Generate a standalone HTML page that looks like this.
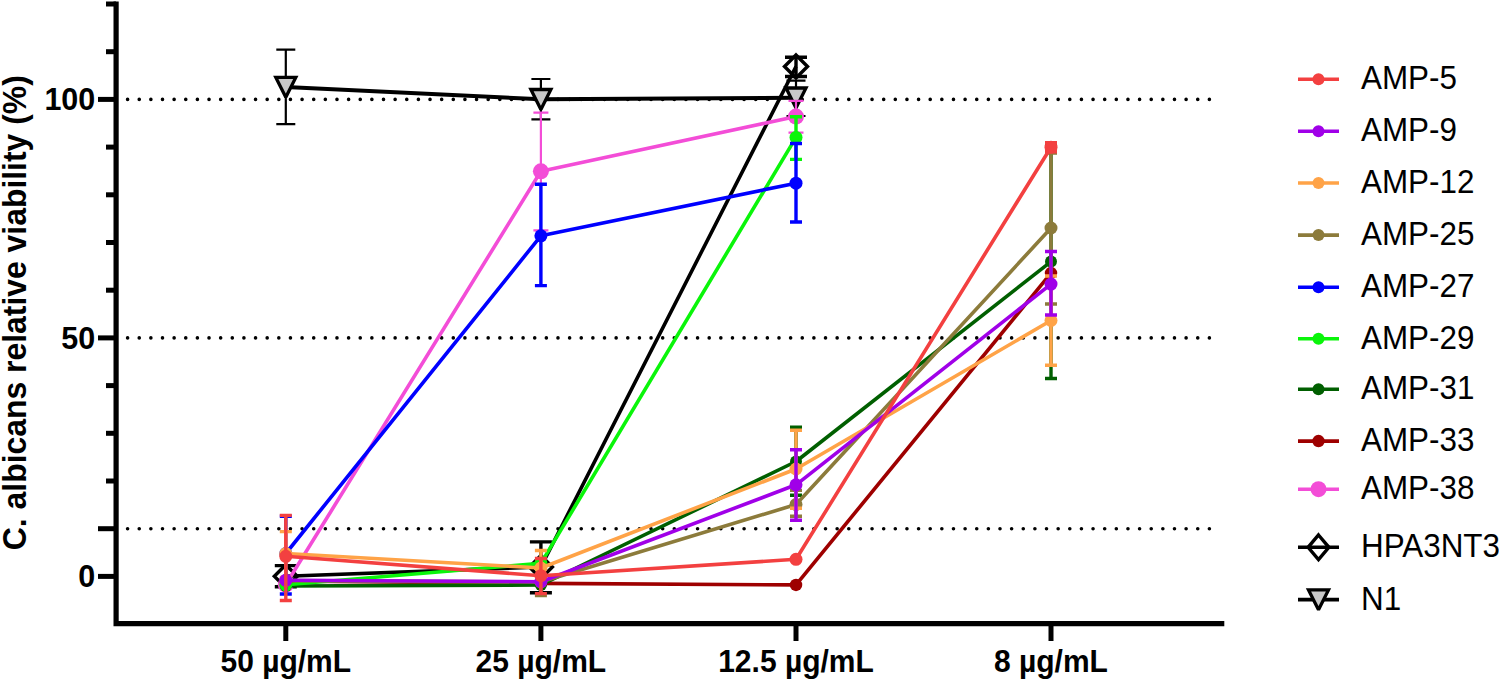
<!DOCTYPE html><html><head><meta charset="utf-8"><style>html,body{margin:0;padding:0;background:#fff;width:1499px;height:679px;overflow:hidden}svg{display:block}text{font-family:"Liberation Sans", sans-serif}</style></head><body>
<svg width="1499" height="679" viewBox="0 0 1499 679">
<line x1="127.6" y1="99.40" x2="1210" y2="99.40" stroke="#000" stroke-width="3.6" stroke-linecap="round" stroke-dasharray="0 11.632"/>
<line x1="127.6" y1="337.90" x2="1210" y2="337.90" stroke="#000" stroke-width="3.6" stroke-linecap="round" stroke-dasharray="0 11.632"/>
<line x1="127.6" y1="528.70" x2="1210" y2="528.70" stroke="#000" stroke-width="3.6" stroke-linecap="round" stroke-dasharray="0 11.632"/>
<g><path d="M285.80 49.60V124.20M276.30 49.60H295.30M276.30 124.20H295.30" stroke="#000" stroke-width="2.2" fill="none"/><path d="M540.90 79.00V119.30M531.40 79.00H550.40M531.40 119.30H550.40" stroke="#000" stroke-width="2.2" fill="none"/><path d="M796.00 80.60V116.00M786.50 80.60H805.50M786.50 116.00H805.50" stroke="#000" stroke-width="2.2" fill="none"/><polyline points="285.80,87.10 540.90,99.20 796.00,97.70" fill="none" stroke="#000" stroke-width="4" stroke-linejoin="round"/><path d="M275.80 77.40L295.80 77.40L285.80 97.30Z" fill="#C8C8C8" stroke="#000" stroke-width="3.3" stroke-linejoin="miter" stroke-miterlimit="2"/><path d="M530.90 89.50L550.90 89.50L540.90 109.40Z" fill="#C8C8C8" stroke="#000" stroke-width="3.3" stroke-linejoin="miter" stroke-miterlimit="2"/><path d="M786.00 88.00L806.00 88.00L796.00 107.90Z" fill="#C8C8C8" stroke="#000" stroke-width="3.3" stroke-linejoin="miter" stroke-miterlimit="2"/></g>
<g><path d="M285.80 565.60V586.80M274.80 565.60H296.80M274.80 586.80H296.80" stroke="#000" stroke-width="3.4" fill="none"/><path d="M540.90 541.90V592.70M529.90 541.90H551.90M529.90 592.70H551.90" stroke="#000" stroke-width="3.4" fill="none"/><path d="M796.00 57.30V76.50M785.00 57.30H807.00M785.00 76.50H807.00" stroke="#000" stroke-width="3.4" fill="none"/><polyline points="285.80,576.20 540.90,567.00 796.00,66.50" fill="none" stroke="#000" stroke-width="3.6" stroke-linejoin="round"/><path d="M285.80 564.70L297.30 576.20L285.80 587.70L274.30 576.20Z" fill="none" stroke="#000" stroke-width="3.4" stroke-linejoin="miter"/><path d="M540.90 555.50L552.40 567.00L540.90 578.50L529.40 567.00Z" fill="none" stroke="#000" stroke-width="3.4" stroke-linejoin="miter"/><path d="M796.00 55.00L807.50 66.50L796.00 78.00L784.50 66.50Z" fill="none" stroke="#000" stroke-width="3.4" stroke-linejoin="miter"/></g>
<g><path d="M540.90 112.60V230.40M533.40 112.60H548.40M533.40 230.40H548.40" stroke="#F34DD7" stroke-width="2.2" fill="none"/><path d="M796.00 100.90V132.60M788.50 100.90H803.50M788.50 132.60H803.50" stroke="#F34DD7" stroke-width="2.2" fill="none"/><polyline points="285.80,584.50 540.90,171.30 796.00,116.60" fill="none" stroke="#F34DD7" stroke-width="3.6" stroke-linejoin="round"/><circle cx="285.80" cy="584.50" r="8.00" fill="#F34DD7"/><circle cx="540.90" cy="171.30" r="8.00" fill="#F34DD7"/><circle cx="796.00" cy="116.60" r="8.00" fill="#F34DD7"/></g>
<g><polyline points="285.80,581.00 540.90,583.40 796.00,584.90 1051.00,273.10" fill="none" stroke="#9E0000" stroke-width="3.6" stroke-linejoin="round"/><circle cx="285.80" cy="581.00" r="6.25" fill="#9E0000"/><circle cx="540.90" cy="583.40" r="6.25" fill="#9E0000"/><circle cx="796.00" cy="584.90" r="6.25" fill="#9E0000"/><circle cx="1051.00" cy="273.10" r="6.25" fill="#9E0000"/></g>
<g><path d="M796.00 427.30V495.20M790.00 427.30H802.00M790.00 495.20H802.00" stroke="#005F00" stroke-width="3.4" fill="none"/><path d="M1051.00 144.70V378.50M1045.00 144.70H1057.00M1045.00 378.50H1057.00" stroke="#005F00" stroke-width="3.4" fill="none"/><polyline points="285.80,586.00 540.90,585.00 796.00,461.50 1051.00,261.60" fill="none" stroke="#005F00" stroke-width="3.6" stroke-linejoin="round"/><circle cx="285.80" cy="586.00" r="6.00" fill="#005F00"/><circle cx="540.90" cy="585.00" r="6.00" fill="#005F00"/><circle cx="796.00" cy="461.50" r="6.00" fill="#005F00"/><circle cx="1051.00" cy="261.60" r="6.00" fill="#005F00"/></g>
<g><path d="M796.00 116.70V159.40M790.00 116.70H802.00M790.00 159.40H802.00" stroke="#0AF50A" stroke-width="3.4" fill="none"/><polyline points="285.80,584.80 540.90,563.40 796.00,137.40" fill="none" stroke="#0AF50A" stroke-width="3.6" stroke-linejoin="round"/><circle cx="285.80" cy="584.80" r="6.50" fill="#0AF50A"/><circle cx="540.90" cy="563.40" r="6.50" fill="#0AF50A"/><circle cx="796.00" cy="137.40" r="6.50" fill="#0AF50A"/></g>
<g><path d="M285.80 516.20V594.00M279.80 516.20H291.80M279.80 594.00H291.80" stroke="#0000FF" stroke-width="3.4" fill="none"/><path d="M540.90 184.30V285.60M534.90 184.30H546.90M534.90 285.60H546.90" stroke="#0000FF" stroke-width="3.4" fill="none"/><path d="M796.00 143.50V222.00M790.00 143.50H802.00M790.00 222.00H802.00" stroke="#0000FF" stroke-width="3.4" fill="none"/><polyline points="285.80,553.50 540.90,235.80 796.00,183.20" fill="none" stroke="#0000FF" stroke-width="3.6" stroke-linejoin="round"/><circle cx="285.80" cy="553.50" r="6.50" fill="#0000FF"/><circle cx="540.90" cy="235.80" r="6.50" fill="#0000FF"/><circle cx="796.00" cy="183.20" r="6.50" fill="#0000FF"/></g>
<g><path d="M540.90 568.40V595.60M534.90 568.40H546.90M534.90 595.60H546.90" stroke="#8C7B3B" stroke-width="3.4" fill="none"/><path d="M796.00 490.40V516.30M790.00 490.40H802.00M790.00 516.30H802.00" stroke="#8C7B3B" stroke-width="3.4" fill="none"/><path d="M1051.00 153.00V304.00M1045.00 153.00H1057.00M1045.00 304.00H1057.00" stroke="#8C7B3B" stroke-width="3.4" fill="none"/><polyline points="285.80,580.60 540.90,582.00 796.00,504.50 1051.00,228.00" fill="none" stroke="#8C7B3B" stroke-width="3.6" stroke-linejoin="round"/><circle cx="285.80" cy="580.60" r="6.50" fill="#8C7B3B"/><circle cx="540.90" cy="582.00" r="6.50" fill="#8C7B3B"/><circle cx="796.00" cy="504.50" r="6.50" fill="#8C7B3B"/><circle cx="1051.00" cy="228.00" r="6.50" fill="#8C7B3B"/></g>
<g><path d="M285.80 531.60V577.40M279.80 531.60H291.80M279.80 577.40H291.80" stroke="#FFA347" stroke-width="3.4" fill="none"/><path d="M540.90 550.50V582.50M534.90 550.50H546.90M534.90 582.50H546.90" stroke="#FFA347" stroke-width="3.4" fill="none"/><path d="M796.00 430.30V508.20M790.00 430.30H802.00M790.00 508.20H802.00" stroke="#FFA347" stroke-width="3.4" fill="none"/><path d="M1051.00 276.00V365.30M1045.00 276.00H1057.00M1045.00 365.30H1057.00" stroke="#FFA347" stroke-width="3.4" fill="none"/><polyline points="285.80,553.50 540.90,568.00 796.00,469.00 1051.00,320.50" fill="none" stroke="#FFA347" stroke-width="3.6" stroke-linejoin="round"/><circle cx="285.80" cy="553.50" r="6.50" fill="#FFA347"/><circle cx="540.90" cy="568.00" r="6.50" fill="#FFA347"/><circle cx="796.00" cy="469.00" r="6.50" fill="#FFA347"/><circle cx="1051.00" cy="320.50" r="6.50" fill="#FFA347"/></g>
<g><path d="M796.00 449.80V520.30M790.00 449.80H802.00M790.00 520.30H802.00" stroke="#A000E8" stroke-width="3.4" fill="none"/><path d="M1051.00 251.50V315.00M1045.00 251.50H1057.00M1045.00 315.00H1057.00" stroke="#A000E8" stroke-width="3.4" fill="none"/><polyline points="285.80,580.20 540.90,581.70 796.00,484.80 1051.00,284.10" fill="none" stroke="#A000E8" stroke-width="3.6" stroke-linejoin="round"/><circle cx="285.80" cy="580.20" r="6.50" fill="#A000E8"/><circle cx="540.90" cy="581.70" r="6.50" fill="#A000E8"/><circle cx="796.00" cy="484.80" r="6.50" fill="#A000E8"/><circle cx="1051.00" cy="284.10" r="6.50" fill="#A000E8"/></g>
<g><path d="M285.80 515.40V600.50M279.80 515.40H291.80M279.80 600.50H291.80" stroke="#F34040" stroke-width="3.4" fill="none"/><path d="M540.90 558.50V593.60M534.90 558.50H546.90M534.90 593.60H546.90" stroke="#F34040" stroke-width="3.4" fill="none"/><path d="M1051.00 142.60V151.80M1045.00 142.60H1057.00M1045.00 151.80H1057.00" stroke="#F34040" stroke-width="3.4" fill="none"/><polyline points="285.80,556.30 540.90,575.70 796.00,559.30 1051.00,147.20" fill="none" stroke="#F34040" stroke-width="3.6" stroke-linejoin="round"/><circle cx="285.80" cy="556.30" r="6.50" fill="#F34040"/><circle cx="540.90" cy="575.70" r="6.50" fill="#F34040"/><circle cx="796.00" cy="559.30" r="6.50" fill="#F34040"/><circle cx="1051.00" cy="147.20" r="6.50" fill="#F34040"/></g>
<path d="M116.1 1.4V626.3M113.5 623.6H1224.3" stroke="#000" stroke-width="5.2" fill="none"/>
<line x1="98" y1="576.40" x2="116" y2="576.40" stroke="#000" stroke-width="5"/>
<line x1="98" y1="528.70" x2="116" y2="528.70" stroke="#000" stroke-width="5"/>
<line x1="106" y1="481.00" x2="116" y2="481.00" stroke="#000" stroke-width="5"/>
<line x1="106" y1="433.30" x2="116" y2="433.30" stroke="#000" stroke-width="5"/>
<line x1="106" y1="385.60" x2="116" y2="385.60" stroke="#000" stroke-width="5"/>
<line x1="98" y1="337.90" x2="116" y2="337.90" stroke="#000" stroke-width="5"/>
<line x1="106" y1="290.20" x2="116" y2="290.20" stroke="#000" stroke-width="5"/>
<line x1="106" y1="242.50" x2="116" y2="242.50" stroke="#000" stroke-width="5"/>
<line x1="106" y1="194.80" x2="116" y2="194.80" stroke="#000" stroke-width="5"/>
<line x1="106" y1="147.10" x2="116" y2="147.10" stroke="#000" stroke-width="5"/>
<line x1="98" y1="99.40" x2="116" y2="99.40" stroke="#000" stroke-width="5"/>
<line x1="106" y1="51.70" x2="116" y2="51.70" stroke="#000" stroke-width="5"/>
<line x1="106" y1="4.00" x2="116" y2="4.00" stroke="#000" stroke-width="5"/>
<line x1="285.80" y1="623" x2="285.80" y2="641" stroke="#000" stroke-width="5"/>
<line x1="540.90" y1="623" x2="540.90" y2="641" stroke="#000" stroke-width="5"/>
<line x1="796.00" y1="623" x2="796.00" y2="641" stroke="#000" stroke-width="5"/>
<line x1="1051.00" y1="623" x2="1051.00" y2="641" stroke="#000" stroke-width="5"/>
<text x="95.3" y="109.90" text-anchor="end" font-size="30.5" font-weight="bold" transform="translate(0 99.40) scale(1 1.04) translate(0 -99.40)">100</text>
<text x="95.3" y="348.40" text-anchor="end" font-size="30.5" font-weight="bold" transform="translate(0 337.90) scale(1 1.04) translate(0 -337.90)">50</text>
<text x="95.3" y="586.90" text-anchor="end" font-size="30.5" font-weight="bold" transform="translate(0 576.40) scale(1 1.04) translate(0 -576.40)">0</text>
<text x="285.80" y="671.7" text-anchor="middle" font-size="30" font-weight="bold" transform="translate(0 671.7) scale(1 1.03) translate(0 -671.7)">50 µg/mL</text>
<text x="540.90" y="671.7" text-anchor="middle" font-size="30" font-weight="bold" transform="translate(0 671.7) scale(1 1.03) translate(0 -671.7)">25 µg/mL</text>
<text x="796.00" y="671.7" text-anchor="middle" font-size="30" font-weight="bold" transform="translate(0 671.7) scale(1 1.03) translate(0 -671.7)">12.5 µg/mL</text>
<text x="1051.00" y="671.7" text-anchor="middle" font-size="30" font-weight="bold" transform="translate(0 671.7) scale(1 1.03) translate(0 -671.7)">8 µg/mL</text>
<text transform="translate(25.6 312.7) rotate(-90) scale(1 1.06)" x="0" y="0" text-anchor="middle" font-size="31.9" font-weight="bold">C. albicans relative viability (%)</text>
<line x1="1298" y1="79.30" x2="1339" y2="79.30" stroke="#F34040" stroke-width="3.6"/>
<circle cx="1318.50" cy="79.30" r="6.00" fill="#F34040"/>
<text x="1361" y="89.30" font-size="31.4" transform="translate(0 89.30) scale(1 1.06) translate(0 -89.30)">AMP-5</text>
<line x1="1298" y1="131.30" x2="1339" y2="131.30" stroke="#A000E8" stroke-width="3.6"/>
<circle cx="1318.50" cy="131.30" r="6.00" fill="#A000E8"/>
<text x="1361" y="141.30" font-size="31.4" transform="translate(0 141.30) scale(1 1.06) translate(0 -141.30)">AMP-9</text>
<line x1="1298" y1="183.00" x2="1339" y2="183.00" stroke="#FFA347" stroke-width="3.6"/>
<circle cx="1318.50" cy="183.00" r="6.00" fill="#FFA347"/>
<text x="1361" y="193.00" font-size="31.4" transform="translate(0 193.00) scale(1 1.06) translate(0 -193.00)">AMP-12</text>
<line x1="1298" y1="235.10" x2="1339" y2="235.10" stroke="#8C7B3B" stroke-width="3.6"/>
<circle cx="1318.50" cy="235.10" r="6.00" fill="#8C7B3B"/>
<text x="1361" y="245.10" font-size="31.4" transform="translate(0 245.10) scale(1 1.06) translate(0 -245.10)">AMP-25</text>
<line x1="1298" y1="287.20" x2="1339" y2="287.20" stroke="#0000FF" stroke-width="3.6"/>
<circle cx="1318.50" cy="287.20" r="6.00" fill="#0000FF"/>
<text x="1361" y="297.20" font-size="31.4" transform="translate(0 297.20) scale(1 1.06) translate(0 -297.20)">AMP-27</text>
<line x1="1298" y1="338.80" x2="1339" y2="338.80" stroke="#0AF50A" stroke-width="3.6"/>
<circle cx="1318.50" cy="338.80" r="6.00" fill="#0AF50A"/>
<text x="1361" y="348.80" font-size="31.4" transform="translate(0 348.80) scale(1 1.06) translate(0 -348.80)">AMP-29</text>
<line x1="1298" y1="389.20" x2="1339" y2="389.20" stroke="#005F00" stroke-width="3.6"/>
<circle cx="1318.50" cy="389.20" r="6.00" fill="#005F00"/>
<text x="1361" y="399.20" font-size="31.4" transform="translate(0 399.20) scale(1 1.06) translate(0 -399.20)">AMP-31</text>
<line x1="1298" y1="441.10" x2="1339" y2="441.10" stroke="#9E0000" stroke-width="3.6"/>
<circle cx="1318.50" cy="441.10" r="6.25" fill="#9E0000"/>
<text x="1361" y="451.10" font-size="31.4" transform="translate(0 451.10) scale(1 1.06) translate(0 -451.10)">AMP-33</text>
<line x1="1298" y1="489.20" x2="1339" y2="489.20" stroke="#F34DD7" stroke-width="3.6"/>
<circle cx="1318.50" cy="489.20" r="8.00" fill="#F34DD7"/>
<text x="1361" y="499.20" font-size="31.4" transform="translate(0 499.20) scale(1 1.06) translate(0 -499.20)">AMP-38</text>
<line x1="1298" y1="547.30" x2="1339" y2="547.30" stroke="#000" stroke-width="3.6"/>
<path d="M1318.50 535.00L1328.90 547.30L1318.50 559.60L1308.10 547.30Z" fill="none" stroke="#000" stroke-width="3.4" stroke-linejoin="miter"/>
<text x="1361" y="557.30" font-size="31.4" transform="translate(0 557.30) scale(1 1.06) translate(0 -557.30)">HPA3NT3</text>
<line x1="1298" y1="599.60" x2="1339" y2="599.60" stroke="#000" stroke-width="3.6"/>
<path d="M1308.50 589.90L1328.50 589.90L1318.50 609.80Z" fill="#C8C8C8" stroke="#000" stroke-width="3.3" stroke-linejoin="miter" stroke-miterlimit="2"/>
<text x="1361" y="609.60" font-size="31.4" transform="translate(0 609.60) scale(1 1.06) translate(0 -609.60)">N1</text>
</svg></body></html>
